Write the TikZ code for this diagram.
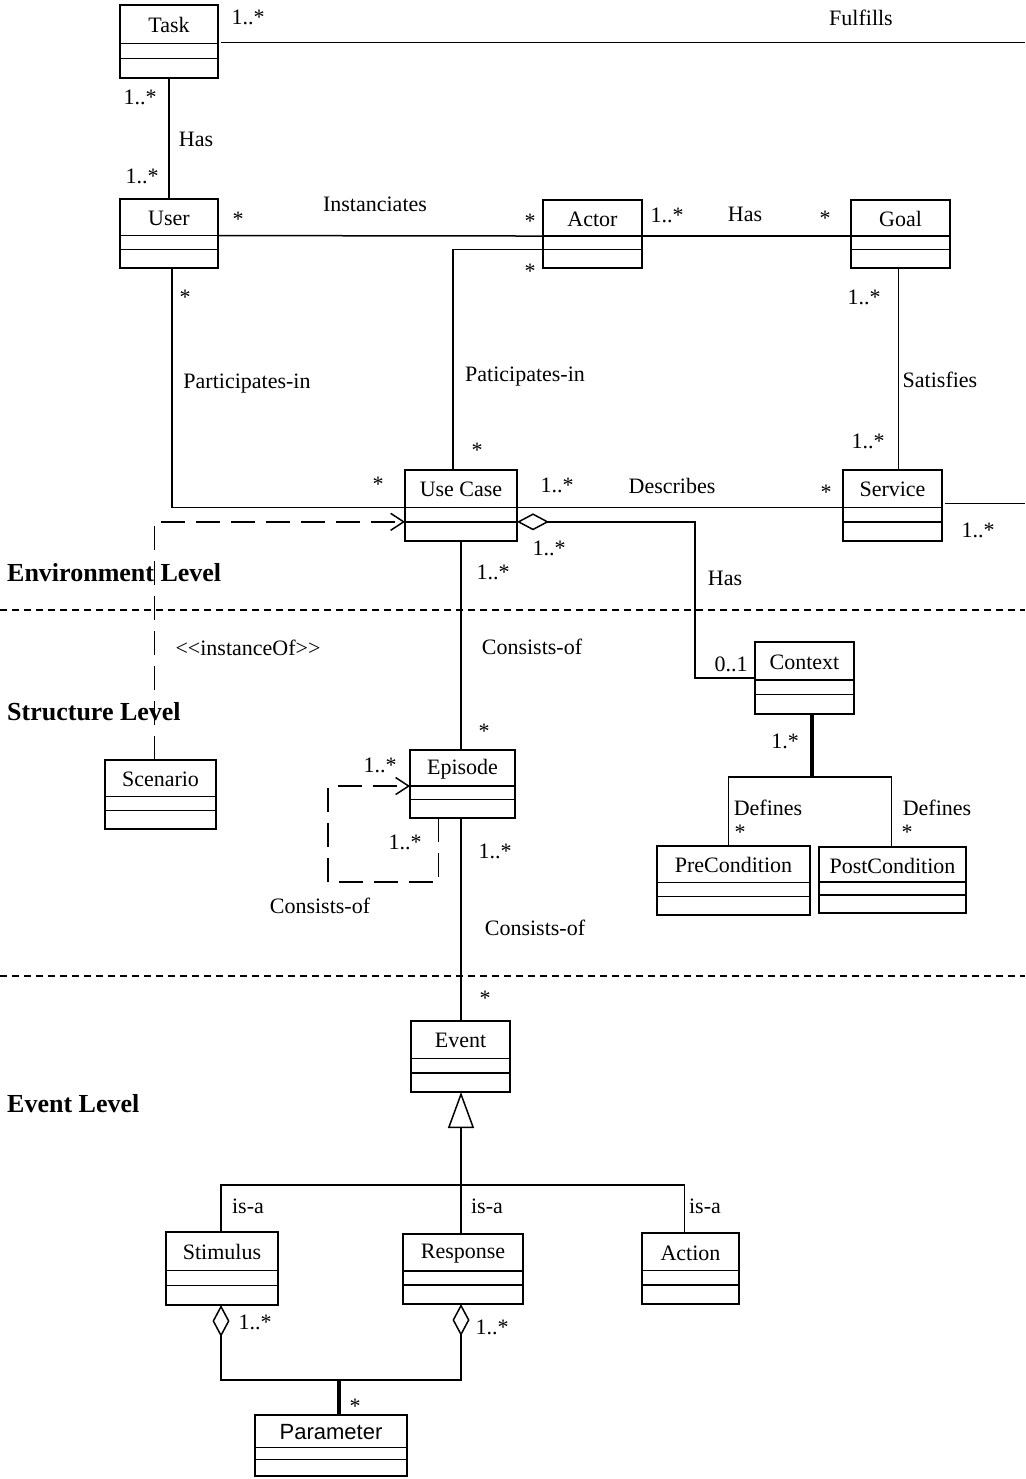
\documentclass[tikz,border=0pt]{standalone}
\usepackage{fontspec}
\setmainfont{Liberation Serif}
\newfontfamily\sansf{Liberation Sans}
\usetikzlibrary{arrows.meta,calc}
\newcommand\umlbox[6]{%
 \pgfmathsetmacro\ubA{#3+0.53*(#5-#3)}%
 \pgfmathsetmacro\ubB{#3+0.73*(#5-#3)}%
 \pgfmathsetmacro\ubx{(#2+#4)/2}%
 \pgfmathsetmacro\uby{(#3+#5)/2}%
 \pgfmathsetmacro\ubt{(#3+\ubA)/2+1}%
 \node[cls, minimum width={#4-#2}, minimum height={#5-#3}] (#1) at (\ubx,\uby) {};
 \coordinate (#1-hl) at (#2,\ubA); \coordinate (#1-hr) at (#4,\ubA);
 \coordinate (#1-sl) at (#2,\ubB); \coordinate (#1-sr) at (#4,\ubB);
 \draw[ln] (#1-hl) -- (#1-hr);
 \draw[ln] (#1-sl) -- (#1-sr);
 \node[clstext] (#1-t) at (\ubx,\ubt) {#6};
}
\newcommand\lab[4]{\node[lbl] (#1) at (#2,#3) {#4};}
\tikzset{
 cls/.style={draw, rectangle, line width=1.5pt, inner sep=0pt, outer sep=0pt},
 ln/.style={line width=1.5pt},
 thickln/.style={line width=3.4pt},
 dashln/.style={line width=1.5pt, dash pattern=on 24pt off 11pt},
 lvlline/.style={line width=1.3pt, dash pattern=on 7pt off 5pt},
 clstext/.style={font=\fontsize{22}{25}\selectfont, inner sep=0pt},
 lbl/.style={font=\fontsize{22}{25}\selectfont, inner sep=0pt},
 lvlfont/.style={font=\fontsize{26}{30}\selectfont\bfseries, inner sep=0pt, anchor=west},
 aggtip/.style={-{Diamond[open, length=32pt, width=17pt]}},
 gentip/.style={-{Triangle[open, length=36pt, width=26pt]}},
 opentip/.style={-{Straight Barb[length=13pt, width=17pt]}}
}
\begin{document}
\begin{tikzpicture}[x=1pt, y=-1pt]
\useasboundingbox (0,0) rectangle (1025,1479);
\coordinate (re) at (1025,0);
% classes
\umlbox{task}{120}{5}{218}{78}{Task}
\umlbox{user}{120}{199}{218}{268}{User}
\umlbox{actor}{543}{200}{642}{268}{Actor}
\umlbox{goal}{851}{200}{950}{268}{Goal}
\umlbox{usecase}{405}{470}{517}{541}{Use Case}
\umlbox{service}{843}{470}{942}{541}{Service}
\umlbox{context}{755}{642}{854}{714}{Context}
\umlbox{scenario}{105}{760}{216}{829}{Scenario}
\umlbox{episode}{410}{750}{515}{818}{Episode}
\umlbox{precond}{657}{846}{810}{915}{PreCondition}
\umlbox{postcond}{819}{847}{966}{913}{PostCondition}
\umlbox{event}{411}{1021}{510}{1092}{Event}
\umlbox{stimulus}{166}{1232}{278}{1305}{Stimulus}
\umlbox{response}{403}{1234}{523}{1304}{Response}
\umlbox{action}{642}{1233}{739}{1304}{Action}
\umlbox{parameter}{255}{1415}{407}{1476}{{\sansf Parameter}}
% level separators
\draw[lvlline] (0,610) -- (1025,610);
\draw[lvlline] (0,976) -- (1025,976);
\node[lvlfont] (envlvl) at (7,573) {Environment Level};
\node[lvlfont] (strlvl) at (7,712) {Structure Level};
\node[lvlfont] (evtlvl) at (7,1104) {Event Level};
% helper coordinates
\coordinate (taskout) at ($(task-hr)+(3,-1)$);
\coordinate (ucin) at ($(usecase.north)+(-8,0)$);
\coordinate (userout) at ($(user.south)+(3,0)$);
\coordinate (goalout) at ($(goal.south)+(-2,0)$);
\coordinate (servout) at ($(service-hr)+(3,-4)$);
\coordinate (ctxbend) at (695,0);
\coordinate (scenout) at ($(scenario.north)+(-6,0)$);
\coordinate (epout) at ($(episode.south)+(-24,0)$);
\coordinate (eploop) at (328,882);
\coordinate (spine) at (461,0);
\coordinate (gen) at (461,1185);
\coordinate (cj) at (812,777);
\coordinate (preout) at ($(precond.north)+(-5,0)$);
\coordinate (postout) at ($(postcond.north)+(-1,0)$);
\coordinate (stimout) at ($(stimulus.south)+(-1,0)$);
\coordinate (respout) at ($(response.south)+(-2,0)$);
\coordinate (stimin) at ($(stimulus.north)+(-1,0)$);
\coordinate (actin) at ($(action.north)+(-6,0)$);
\coordinate (pj) at (339,1380);
% connectors
\draw[ln] (taskout) -- (taskout -| re);
\draw[ln] (task.south) -- (user.north);
\draw[ln] (user-hr) -- (actor-hl);
\draw[ln] (actor-hr) -- (goal-hl);
\draw[ln] (actor-sl) -| (ucin);
\draw[ln] (userout) |- (usecase-hl);
\draw[ln] (goalout) -- (goalout |- service.north);
\draw[ln] (usecase-hr) -- (service-hl);
\draw[ln] (servout) -- (servout -| re);
\draw[ln, aggtip] (context.west) -- (context.west -| ctxbend) -- (ctxbend |- usecase-sr) -- (usecase-sr);
\draw[dashln, opentip] (scenout) |- (usecase-sl);
\draw[ln] (usecase.south -| spine) -- (episode.north -| spine);
\draw[dashln, opentip] (epout) |- (eploop) |- (episode-hl);
\draw[ln] (episode.south -| spine) -- (event.north -| spine);
\draw[ln, gentip] (gen) -- (event.south -| gen);
\draw[ln] (stimin) |- (gen) -| (actin);
\draw[ln] (response.north -| gen) -- (gen);
\draw[thickln] (context.south -| cj) -- (cj);
\draw[ln] (preout) |- (cj) -| (postout);
\draw[ln, aggtip] (pj) -| (stimout);
\draw[ln, aggtip] (pj) -| (respout);
\draw[thickln] (parameter.north -| pj) -- (pj);
% labels
\lab{l1}{248}{17}{1..*}
\lab{l2}{861}{18}{Fulfills}
\lab{l3}{140}{97}{1..*}
\lab{l4}{196}{139}{Has}
\lab{l5}{142}{176}{1..*}
\lab{l6}{238}{219}{*}
\lab{l7}{375}{204}{Instanciates}
\lab{l8}{530}{221}{*}
\lab{l9}{667}{215}{1..*}
\lab{l10}{745}{214}{Has}
\lab{l11}{825}{218}{*}
\lab{l12}{530}{271}{*}
\lab{l13}{185}{297}{*}
\lab{l14}{864}{297}{1..*}
\lab{l15}{247}{384}{Participates-in}
\lab{l16}{525}{377}{Paticipates-in}
\lab{l17}{940}{380}{Satisfies}
\lab{l18}{477}{450}{*}
\lab{l19}{868}{441}{1..*}
\lab{l20}{378}{484}{*}
\lab{l21}{557}{485}{1..*}
\lab{l22}{672}{486}{Describes}
\lab{l23}{826}{492}{*}
\lab{l24}{978}{530}{1..*}
\lab{l25}{549}{548}{1..*}
\lab{l26}{493}{572}{1..*}
\lab{l27}{725}{578}{Has}
\lab{l28}{532}{647}{Consists-of}
\lab{l29}{248}{648}{{<}{<}instanceOf{>}{>}}
\lab{l30}{731}{664}{0..1}
\lab{l31}{484}{731}{*}
\lab{l32}{785}{741}{1.*}
\lab{l33}{380}{765}{1..*}
\lab{l34}{768}{808}{Defines}
\lab{l35}{937}{808}{Defines}
\lab{l36}{740}{832}{*}
\lab{l37}{907}{832}{*}
\lab{l38}{405}{842}{1..*}
\lab{l39}{495}{851}{1..*}
\lab{l40}{320}{906}{Consists-of}
\lab{l41}{535}{928}{Consists-of}
\lab{l42}{485}{998}{*}
\lab{l43}{248}{1206}{is-a}
\lab{l44}{487}{1206}{is-a}
\lab{l45}{705}{1206}{is-a}
\lab{l46}{255}{1322}{1..*}
\lab{l47}{492}{1327}{1..*}
\lab{l48}{355}{1406}{*}
\end{tikzpicture}
\end{document}
